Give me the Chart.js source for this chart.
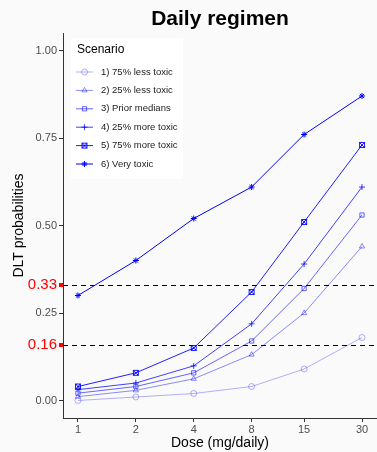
<!DOCTYPE html>
<html>
<head>
<meta charset="utf-8">
<script src="https://cdn.jsdelivr.net/npm/chart.js@4.4.1/dist/chart.umd.min.js"></script>
<style>
  body { margin: 0; background: #fafafa; }
  #chart { display: block; }
</style>
</head>
<body>
<canvas id="chart" width="377" height="452"></canvas>
<script>
/* data */
var doses = [1, 2, 4, 8, 15, 30];
var scenarios = ['1) 75% less toxic', '2) 25% less toxic', '3) Prior medians', '4) 25% more toxic', '5) 75% more toxic', '6) Very toxic'];
var lessToxic75 = [0.00, 0.01, 0.02, 0.04, 0.09, 0.18];
var lessToxic25 = [0.011, 0.029, 0.062, 0.131, 0.25, 0.44];
var priorMedians = [0.021, 0.04, 0.079, 0.17, 0.32, 0.53];
var moreToxic25 = [0.031, 0.05, 0.099, 0.219, 0.39, 0.61];
var moreToxic75 = [0.04, 0.079, 0.15, 0.31, 0.51, 0.73];
var veryToxic = [0.30, 0.40, 0.52, 0.61, 0.76, 0.87];
var yTicks = [0, 0.16, 0.25, 0.33, 0.5, 0.75, 1];
var targetLines = [0.16, 0.33];

var font = "'Liberation Sans', Arial, sans-serif";

// square with an X through it, for scenario 5
function boxX(col) {
	var c = document.createElement('canvas');
	c.width = 8; c.height = 8;
	var g = c.getContext('2d');
	g.strokeStyle = col;
	g.lineWidth = 1;
	g.strokeRect(1.5, 1.5, 5, 5);
	g.beginPath();
	g.moveTo(1.5, 1.5); g.lineTo(6.5, 6.5);
	g.moveTo(6.5, 1.5); g.lineTo(1.5, 6.5);
	g.stroke();
	return c;
}

var series = [lessToxic75, lessToxic25, priorMedians, moreToxic25, moreToxic75, veryToxic];
var alphas = [0.3, 0.45, 0.6, 0.75, 0.88, 1];
var styles = ['circle', 'triangle', 'rect', 'cross', boxX('rgba(0,0,255,0.88)'), 'star'];

var datasets = series.map(function(vals, i) {
	var col = 'rgba(0,0,255,' + alphas[i] + ')';
	return {
		label: scenarios[i],
		data: vals.map(function(v, j) { return {x: doses[j], y: v}; }),
		borderColor: col,
		backgroundColor: 'rgba(0,0,0,0)',
		borderWidth: 1,
		pointStyle: styles[i],
		pointRadius: 3,
		pointBorderColor: col,
		pointBorderWidth: 1
	};
});

var isRed = function(ctx) { return !!(ctx && ctx.tick && targetLines.indexOf(ctx.tick.value) >= 0); };

var extras = {
	id: 'extras',
	beforeDatasetsDraw: function(chart) {
		var c = chart.ctx, a = chart.chartArea, y = chart.scales.y;
		c.save();
		c.strokeStyle = '#000';
		c.lineWidth = 1;
		c.setLineDash([5, 4]);
		targetLines.forEach(function(v) {
			var py = Math.round(y.getPixelForValue(v)) + 0.5;
			c.beginPath();
			c.moveTo(a.left, py);
			c.lineTo(a.right, py);
			c.stroke();
		});
		c.restore();
	},
	afterDraw: function(chart) {
		var c = chart.ctx, a = chart.chartArea;
		c.save();
		// title, centred over the plot panel
		c.fillStyle = '#000';
		c.font = 'bold 21px ' + font;
		c.textAlign = 'center';
		c.textBaseline = 'alphabetic';
		c.fillText('Daily regimen', (a.left + a.right) / 2, 25);

		// legend inside plot
		var lx = a.left + 8, ly = a.top + 5;
		c.textBaseline = 'middle';
		c.fillStyle = '#fff';
		c.fillRect(lx, ly, 112, 141);
		c.fillStyle = '#000';
		c.font = '12px ' + font;
		c.textAlign = 'left';
		c.fillText('Scenario', lx + 6, ly + 12);
		c.font = '9.5px ' + font;
		chart.data.datasets.forEach(function(ds, i) {
			var yy = ly + 34 + i * 18.4;
			c.strokeStyle = ds.borderColor;
			c.fillStyle = 'rgba(0,0,0,0)';
			c.lineWidth = 1;
			c.beginPath();
			c.moveTo(lx + 5, yy);
			c.lineTo(lx + 22, yy);
			c.stroke();
			Chart.helpers.drawPoint(c, {pointStyle: ds.pointStyle, radius: 3, borderWidth: 1}, lx + 13.5, yy);
			c.fillStyle = '#1a1a1a';
			c.fillText(ds.label, lx + 30, yy);
		});
		c.restore();
	}
};

new Chart(document.getElementById('chart'), {
	type: 'line',
	data: { datasets: datasets },
	plugins: [extras],
	options: {
		responsive: false,
		animation: false,
		layout: { autoPadding: false, padding: { top: 33, right: 0, bottom: 0, left: 11 } },
		plugins: { legend: { display: false }, title: { display: false }, tooltip: { enabled: false } },
		scales: {
			x: {
				type: 'logarithmic',
				min: 0.836,
				max: 35.9,
				afterBuildTicks: function(s) { s.ticks = doses.map(function(v) { return {value: v}; }); },
				afterFit: function(s) { s.height = 34; s.paddingRight = 0; s.paddingLeft = 0; },
				ticks: {
					callback: function(v) { return String(v); },
					color: '#4d4d4d',
					font: { family: font, size: 11 },
					padding: 1,
					autoSkip: false,
					maxRotation: 0
				},
				grid: { drawOnChartArea: false, tickLength: 4, color: '#333' },
				border: { color: '#333', width: 1 },
				title: { display: true, text: 'Dose (mg/daily)', color: '#000', font: { family: font, size: 14 }, padding: { top: 0, bottom: 0 } }
			},
			y: {
				min: -0.05,
				max: 1.05,
				afterBuildTicks: function(s) { s.ticks = yTicks.map(function(v) { return {value: v}; }); },
				afterFit: function(s) { s.width = 52; s.paddingTop = 0; s.paddingBottom = 0; },
				ticks: {
					callback: function(v) { return v.toFixed(2); },
					color: function(ctx) { return isRed(ctx) ? '#ff0000' : '#4d4d4d'; },
					font: function(ctx) { return { family: font, size: isRed(ctx) ? 15 : 11 }; },
					padding: 2
				},
				grid: {
					drawOnChartArea: false,
					tickLength: 4,
					color: function(ctx) { return isRed(ctx) ? '#ff0000' : '#333'; },
					lineWidth: function(ctx) { return isRed(ctx) ? 4 : 1; }
				},
				border: { color: '#333', width: 1 },
				title: { display: true, text: 'DLT probabilities', color: '#000', font: { family: font, size: 14 }, padding: { top: 0, bottom: 2 } }
			}
		}
	}
});
</script>
</body>
</html>
